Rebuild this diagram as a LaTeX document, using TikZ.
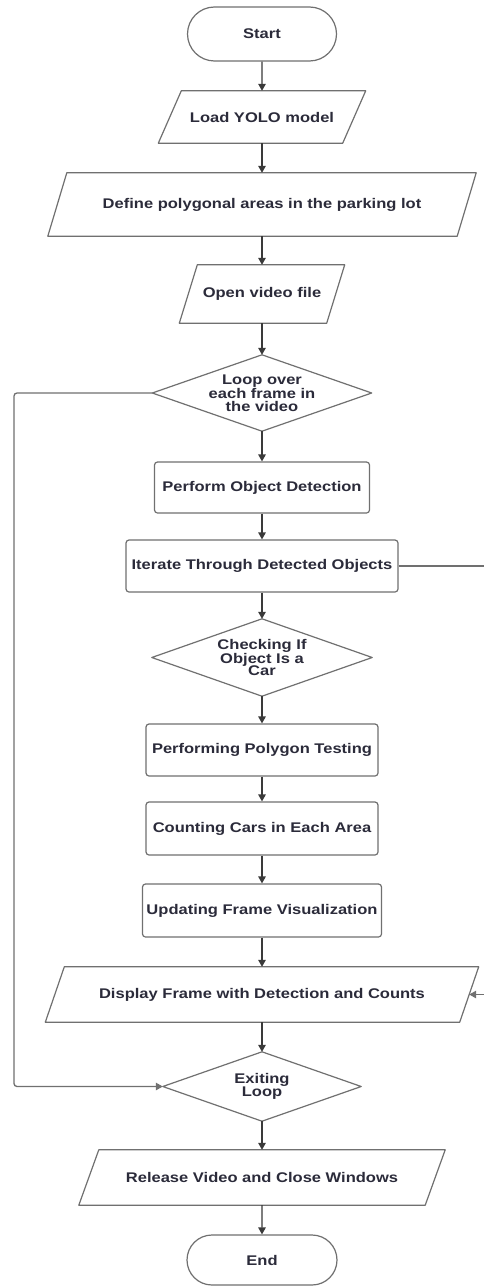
\documentclass[tikz,border=0pt]{standalone}
\usepackage{fontspec}
\setmainfont[FakeStretch=1.18]{Liberation Sans}
\usetikzlibrary{arrows.meta,shapes.misc}
\definecolor{txtc}{HTML}{2B2B3A}
\definecolor{linec}{HTML}{707070}
\definecolor{connc}{HTML}{3A3A3A}
\newcommand{\mypara}[2]{\draw[outline] ([xshift=-#2pt]#1.south west) -- ([xshift=#2pt]#1.north west) -- ([xshift=#2pt]#1.north east) -- ([xshift=-#2pt]#1.south east) -- cycle;}
\newcommand{\mydiamond}[1]{\draw[outline] (#1.north) -- (#1.east) -- (#1.south) -- (#1.west) -- cycle;}
\begin{document}
\begin{tikzpicture}[x=1pt,y=-1pt,
  txt/.style={font=\bfseries\fontsize{14}{12.8}\selectfont, text=txtc, align=center, inner sep=0pt},
  ghost/.style={txt},
  proc/.style={txt, draw=linec, line width=1.2pt, rounded corners=3pt},
  term/.style={txt, draw=linec, line width=1.2pt, rounded rectangle},
  outline/.style={draw=linec, line width=1.2pt, line join=round},
  conn/.style={draw=connc, line width=1.3pt, -{Triangle[width=7.5pt,length=7pt]}}]
\useasboundingbox[fill=white] (0,0) rectangle (484,1287);

\node[term, minimum width=149pt, minimum height=54pt] (start) at (262,34) {Start};
\node[ghost, minimum width=184pt, minimum height=52pt] (load) at (262,117) {Load YOLO model};
\node[ghost, minimum width=409pt, minimum height=63pt] (define) at (262,204.5) {Define polygonal areas in the parking lot};
\node[ghost, minimum width=147pt, minimum height=58pt] (open) at (262,294) {Open video file};
\node[ghost, minimum width=219pt, minimum height=76pt] (loop) at (262,393) {Loop over\\each frame in\\the video};
\node[proc, minimum width=215pt, minimum height=51pt] (detect) at (262,487.5) {Perform Object Detection};
\node[proc, minimum width=272pt, minimum height=52pt] (iter) at (262,566) {Iterate Through Detected Objects};
\node[ghost, minimum width=220pt, minimum height=77pt] (check) at (262,657.5) {Checking If\\Object Is a\\Car};
\node[proc, minimum width=232pt, minimum height=52pt] (poly) at (262,750) {Performing Polygon Testing};
\node[proc, minimum width=232pt, minimum height=53pt] (count) at (262,828.5) {Counting Cars in Each Area};
\node[proc, minimum width=239pt, minimum height=53pt] (update) at (262,910.5) {Updating Frame Visualization};
\node[ghost, minimum width=414pt, minimum height=55pt] (disp) at (262,994.5) {Display Frame with Detection and Counts};
\node[ghost, minimum width=198pt, minimum height=69pt] (exit) at (262,1086.5) {Exiting\\Loop};
\node[ghost, minimum width=346pt, minimum height=55pt] (release) at (262,1177.5) {Release Video and Close Windows};
\node[term, minimum width=150pt, minimum height=50pt] (end) at (262,1260) {End};

\mypara{load}{11.5}
\mypara{define}{9.5}
\mypara{open}{9}
\mypara{disp}{9.5}
\mypara{release}{10}
\mydiamond{loop}
\mydiamond{check}
\mydiamond{exit}

\draw[conn] (start) -- (load);
\draw[conn] (load) -- (define);
\draw[conn] (define) -- (open);
\draw[conn] (open) -- (loop);
\draw[conn] (loop) -- (detect);
\draw[conn] (detect) -- (iter);
\draw[conn] (iter) -- (check);
\draw[conn] (check) -- (poly);
\draw[conn] (poly) -- (count);
\draw[conn] (count) -- (update);
\draw[conn] (update) -- (disp);
\draw[conn] (disp) -- (exit);
\draw[conn] (exit) -- (release);
\draw[conn] (release) -- (end);

\coordinate (lp) at (14,0);
\coordinate (rp) at (490,0);
\draw[conn, draw=linec, rounded corners=3pt] (loop.west) -| (lp |- exit.west) -- (exit.west);
\draw[conn, draw=linec] (iter.east) -| (rp |- disp.east) -- (disp.east);
\end{tikzpicture}
\end{document}
